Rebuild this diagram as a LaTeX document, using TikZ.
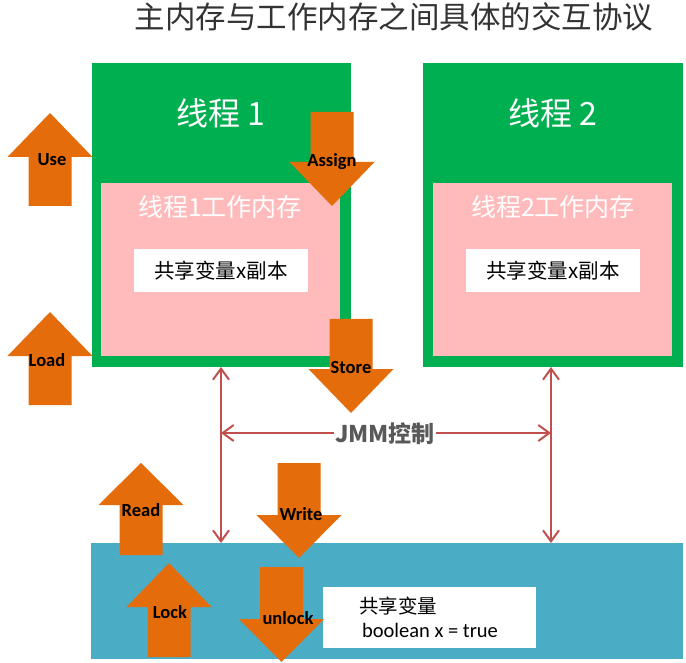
\documentclass[tikz,border=0pt]{standalone}
\usepackage{fontspec}
\newfontfamily\cjk{Noto Sans CJK SC}
\newfontfamily\calfont{Carlito}
\usetikzlibrary{arrows.meta}
\definecolor{tgreen}{HTML}{00B050}
\definecolor{tpink}{HTML}{FFBBBB}
\definecolor{tblue}{HTML}{4BACC6}
\definecolor{torange}{HTML}{E46C0A}
\definecolor{tred}{HTML}{C0504D}
\definecolor{tgray}{HTML}{595959}
\newcommand\myuparrow[4]{%
  \fill[torange] (#1,#2) -- (#1+42.5,#3) -- (#1+21.5,#3) -- (#1+21.5,#4) -- (#1-21.5,#4) -- (#1-21.5,#3) -- (#1-42.5,#3) -- cycle;}
\newcommand\mydownarrow[4]{%
  \fill[torange] (#1-21.5,#2) -- (#1+21.5,#2) -- (#1+21.5,#3) -- (#1+42.5,#3) -- (#1,#4) -- (#1-42.5,#3) -- (#1-21.5,#3) -- cycle;}
\begin{document}
\begin{tikzpicture}[x=1pt,y=-1pt,
  box/.style={inner sep=0pt, outer sep=0pt, anchor=north west, draw=none},
  lbl/.style={font=\calfont\bfseries\fontsize{18.5}{18.5}\selectfont, text=black, inner sep=0pt},
  jmm/.style={draw=tred, line width=2pt, {Straight Barb[length=11pt,width=16pt,line width=2pt]}-{Straight Barb[length=11pt,width=16pt,line width=2pt]}}
]
\useasboundingbox (0,0) rectangle (686,663);
\fill[white] (0,0) rectangle (686,663);

\node[inner sep=0pt, font=\cjk\fontsize{30.5}{30.5}\selectfont, text=black!80] (title) at (394,17) {主内存与工作内存之间具体的交互协议};

% thread 1
\node[box, fill=tgreen, minimum width=259pt, minimum height=304pt] (t1) at (92,63) {};
\node[box, fill=tpink, minimum width=239pt, minimum height=173pt] (p1) at (101,183) {};
\node[box, fill=white, minimum width=174pt, minimum height=43pt] (w1) at (134,249) {};
\node[inner sep=0pt, text=white, font=\cjk\fontsize{32}{32}\selectfont] (t1name) at (221,113) {线程 1};
\node[inner sep=0pt, text=white, font=\cjk\fontsize{25}{25}\selectfont] (p1name) at (220,207) {线程1工作内存};
\node[inner sep=0pt, text=black, font=\cjk\fontsize{20.5}{20.5}\selectfont] (w1name) at (221,271) {共享变量x副本};

% thread 2
\node[box, fill=tgreen, minimum width=260pt, minimum height=304pt] (t2) at (423,63) {};
\node[box, fill=tpink, minimum width=239pt, minimum height=173pt] (p2) at (433,183) {};
\node[box, fill=white, minimum width=174pt, minimum height=43pt] (w2) at (466,249) {};
\node[inner sep=0pt, text=white, font=\cjk\fontsize{32}{32}\selectfont] (t2name) at (553,113) {线程 2};
\node[inner sep=0pt, text=white, font=\cjk\fontsize{25}{25}\selectfont] (p2name) at (553,207) {线程2工作内存};
\node[inner sep=0pt, text=black, font=\cjk\fontsize{20.5}{20.5}\selectfont] (w2name) at (553,271) {共享变量x副本};

% main memory
\node[box, fill=tblue, minimum width=592pt, minimum height=116pt] (mem) at (91,543) {};
\node[box, fill=white, minimum width=213pt, minimum height=61pt] (wm) at (323,587) {};
\node[inner sep=0pt, text=black, font=\cjk\fontsize{19.5}{19.5}\selectfont] (wmname) at (398,606) {共享变量};
\node[inner sep=0pt, text=black, font=\calfont\fontsize{20.5}{20.5}\selectfont] (wmval) at (430,630) {boolean x = true};

% JMM arrows
\coordinate (xl) at (221,0);
\coordinate (xr) at (551,0);
\coordinate (hy) at (0,433);
\draw[jmm] (t1.south -| xl) -- (mem.north -| xl);
\draw[jmm] (t2.south -| xr) -- (mem.north -| xr);
\draw[jmm] (xl |- hy) -- (xr |- hy);
\node[fill=white, inner sep=1pt, text=tgray, font=\cjk\bfseries\fontsize{23}{23}\selectfont] (jmmlbl) at (385,434) {JMM控制};

% orange arrows
\myuparrow{50}{113}{157}{206}
\myuparrow{50}{312}{356}{405}
\myuparrow{141}{463}{505}{555}
\myuparrow{169}{563}{607}{657}
\mydownarrow{332}{112}{162}{206}
\mydownarrow{351}{319}{369}{413}
\mydownarrow{299}{463}{515}{558}
\mydownarrow{281.5}{567}{619}{662}

\node[lbl] (use) at (52,160) {Use};
\node[lbl] (load) at (47,360) {Load};
\node[lbl] (assign) at (332,162) {Assign};
\node[lbl] (store) at (351,368) {Store};
\node[lbl] (read) at (141,510) {Read};
\node[lbl] (write) at (301,514) {Write};
\node[lbl] (lock) at (170,612) {Lock};
\node[lbl] (unlock) at (288,618) {unlock};
\end{tikzpicture}
\end{document}
